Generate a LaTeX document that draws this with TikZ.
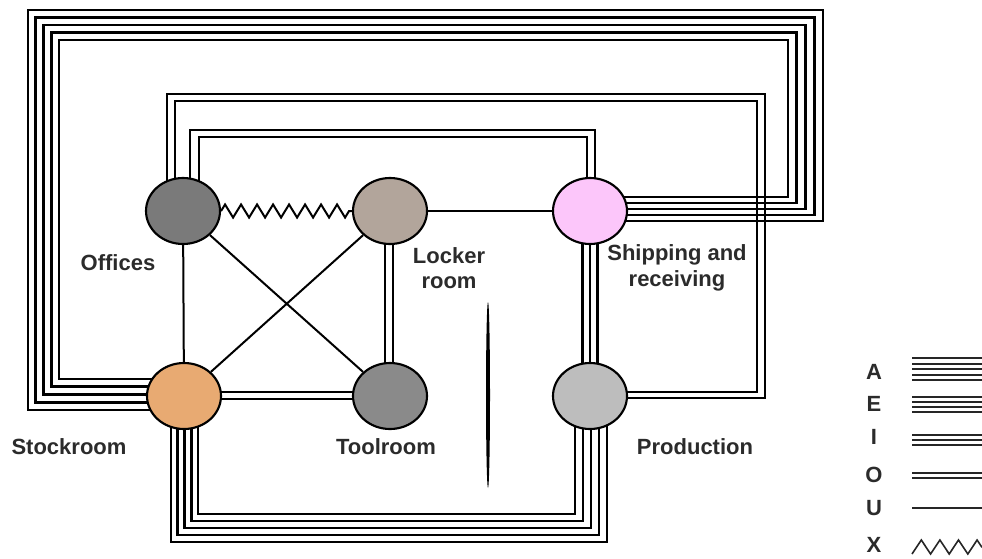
\documentclass[tikz,border=0pt]{standalone}
\usepackage{fontspec}
\setmainfont{Liberation Sans}
\usetikzlibrary{shapes.geometric,calc,decorations.pathmorphing}
\pgfdeclarelayer{bg}
\pgfsetlayers{bg,main}
\definecolor{offc}{HTML}{7A7A7A}
\definecolor{lockc}{HTML}{B2A59B}
\definecolor{shipc}{HTML}{FCC6FA}
\definecolor{stockc}{HTML}{E8AA72}
\definecolor{toolc}{HTML}{8A8A8A}
\definecolor{prodc}{HTML}{BDBDBD}
\definecolor{labc}{HTML}{2B2B2B}
\begin{document}
\begin{tikzpicture}[x=0.75pt,y=-0.75pt,
  dept/.style={ellipse,draw=black,line width=1.6pt,minimum width=55.5pt,minimum height=49.5pt,inner sep=0pt},
  lbl/.style={font=\bfseries\fontsize{16.5}{19}\selectfont,text=labc,align=center,inner sep=0pt},
  rel/.style={line width=2.1pt,draw=black},
  urel/.style={line width=1.5pt,draw=black},
  leg/.style={line width=1.5pt,draw=black!85},
  zz/.style={decorate,decoration={zigzag,segment length=12pt,amplitude=4.9pt}}]
\useasboundingbox (0,0) rectangle (982,558);

% departments
\node[dept,fill=offc]   (off)   at (183,211) {};
\node[dept,fill=lockc]  (lock)  at (390,211) {};
\node[dept,fill=shipc]  (ship)  at (590,211) {};
\node[dept,fill=stockc] (stock) at (184,396) {};
\node[dept,fill=toolc]  (tool)  at (390,396) {};
\node[dept,fill=prodc]  (prod)  at (590,396) {};

\begin{pgfonlayer}{bg}
% A: Shipping and receiving -- Stockroom (outer loop)
\foreach \i in {0,...,4}{
  \pgfmathsetmacro{\sy}{197+6*\i}
  \pgfmathsetmacro{\rx}{788+8.75*\i}
  \pgfmathsetmacro{\ty}{40-7.5*\i}
  \pgfmathsetmacro{\lx}{59-7.75*\i}
  \pgfmathsetmacro{\sty}{379+7.75*\i}
  \draw[rel] ($(ship.center)+(0,\sy-211)$) -- (\rx,\sy) -- (\rx,\ty) -- (\lx,\ty) -- (\lx,\sty) -- ($(stock.center)+(0,\sty-396)$);
}
% A: Stockroom -- Production (bottom loop)
\foreach \i in {0,...,4}{
  \pgfmathsetmacro{\sx}{198-6.75*\i}
  \pgfmathsetmacro{\by}{514+7*\i}
  \pgfmathsetmacro{\px}{575+8*\i}
  \draw[rel] ($(stock.center)+(\sx-184,0)$) -- (\sx,\by) -- (\px,\by) -- ($(prod.center)+(\px-590,0)$);
}
% O: Offices -- Production
\foreach \i in {0,1}{
  \pgfmathsetmacro{\ox}{175-8*\i}
  \pgfmathsetmacro{\ty}{101-7*\i}
  \pgfmathsetmacro{\rx}{757+8*\i}
  \pgfmathsetmacro{\py}{392+6*\i}
  \draw[rel] ($(off.center)+(\ox-183,0)$) -- (\ox,\ty) -- (\rx,\ty) -- (\rx,\py) -- ($(prod.center)+(0,\py-396)$);
}
% O: Offices -- Shipping and receiving
\foreach \i in {0,1}{
  \pgfmathsetmacro{\ox}{199-9*\i}
  \pgfmathsetmacro{\ty}{137-7*\i}
  \pgfmathsetmacro{\sx}{587+8*\i}
  \draw[rel] ($(off.center)+(\ox-183,0)$) -- (\ox,\ty) -- (\sx,\ty) -- ($(ship.center)+(\sx-590,0)$);
}
% I: Shipping and receiving -- Production
\foreach \d in {-7.5,0,7.5}
  \draw[rel] ($(ship.center)+(\d,0)$) -- ($(prod.center)+(\d,0)$);
% O: Locker room -- Toolroom
\foreach \d in {-5,3}
  \draw[rel] ($(lock.center)+(\d,0)$) -- ($(tool.center)+(\d,0)$);
% O: Stockroom -- Toolroom
\foreach \d in {-4,3}
  \draw[rel] ($(stock.center)+(0,\d)$) -- ($(tool.center)+(0,\d)$);
% U
\draw[urel] (off) -- (stock);
\draw[urel] (off) -- (tool);
\draw[urel] (lock) -- (stock);
\draw[urel] (lock) -- (ship);
\end{pgfonlayer}
% X
\draw[urel,zz] (off.east) -- (lock.west);

% central bar
\fill[black] (488,395) ellipse [x radius=2,y radius=93];

% labels
\node[lbl] (loff)   at (118,263) {Offices};
\node[lbl] (llock)  at (449,268) {Locker\\room};
\node[lbl] (lship)  at (677,268) {Shipping and\\receiving};
\node[lbl] (lstock) at (69,447)  {Stockroom};
\node[lbl] (ltool)  at (386,447) {Toolroom};
\node[lbl] (lprod)  at (695,447) {Production};

% legend
\node[lbl] (kA) at (874,372) {A};
\node[lbl] (kE) at (874,404) {E};
\node[lbl] (kI) at (874,437) {I};
\node[lbl] (kO) at (874,475) {O};
\node[lbl] (kU) at (874,508) {U};
\node[lbl] (kX) at (874,545) {X};
\foreach \y in {358,363.5,369,374.5,380} \draw[leg] (912,\y) -- (982,\y);
\foreach \y in {397,402,407,412} \draw[leg] (912,\y) -- (982,\y);
\foreach \y in {435,440,445} \draw[leg] (912,\y) -- (982,\y);
\foreach \y in {473,478} \draw[leg] (912,\y) -- (982,\y);
\draw[leg] (912,508) -- (982,508);
\draw[leg,line width=1.2pt] (912,554) -- (921.3,540) -- (930.6,554) -- (939.9,540) -- (949.2,554) -- (958.5,540) -- (967.8,554) -- (977.1,540) -- (982,547.4);
\end{tikzpicture}
\end{document}
